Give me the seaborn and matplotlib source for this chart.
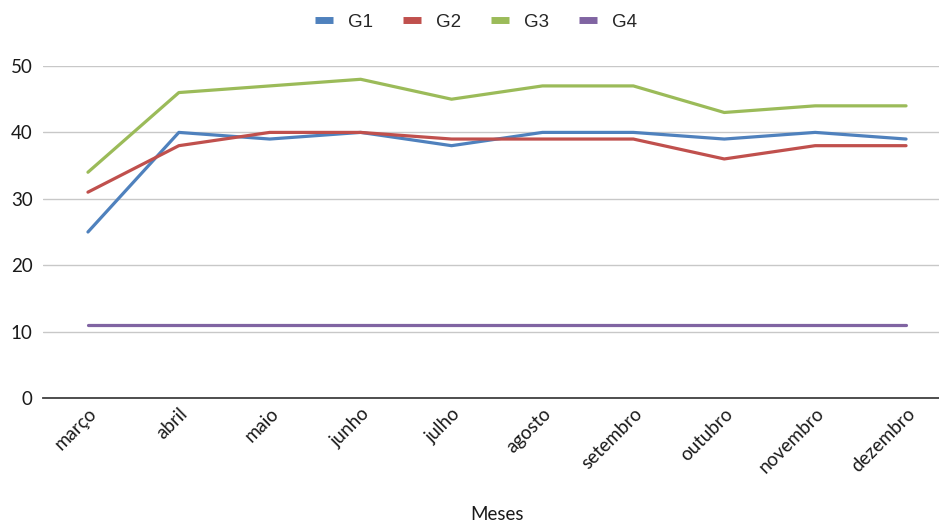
import matplotlib
matplotlib.use("Agg")
import matplotlib.pyplot as plt
import seaborn as sns
import pandas as pd
from matplotlib.lines import Line2D

meses = ["março", "abril", "maio", "junho", "julho", "agosto",
         "setembro", "outubro", "novembro", "dezembro"]
g1 = [25, 40, 39, 40, 38, 40, 40, 39, 40, 39]
g2 = [31, 38, 40, 40, 39, 39, 39, 36, 38, 38]
g3 = [34, 46, 47, 48, 45, 47, 47, 43, 44, 44]
g4 = [11, 11, 11, 11, 11, 11, 11, 11, 11, 11]
series = ["G1", "G2", "G3", "G4"]
colors = ["#4F81BD", "#C0504D", "#9BBB59", "#8064A2"]

rows = []
for name, vals in zip(series, [g1, g2, g3, g4]):
    for m, v in zip(meses, vals):
        rows.append({"Meses": m, "valor": v, "serie": name})
df = pd.DataFrame(rows)

sns.set_theme(style="white")
plt.rcParams["font.family"] = ["Lato", "DejaVu Sans"]

fig = plt.figure(figsize=(9.39, 5.23), dpi=100)
W, H = 939, 523
ax = fig.add_axes([42.5 / W, (H - 398) / H, 909 / W, 332 / H])

sns.lineplot(data=df, x="Meses", y="valor", hue="serie", palette=colors,
             hue_order=series, sort=False, linewidth=2.3, ax=ax, legend=False)

ax.set_xlim(-0.5, 9.5)
ax.set_ylim(0, 50)
ax.set_yticks([0, 10, 20, 30, 40, 50])
ax.yaxis.grid(True, color="#C8C8C8", linewidth=1.0)
ax.set_axisbelow(True)
for s in ["top", "right", "left"]:
    ax.spines[s].set_visible(False)
ax.spines["bottom"].set_color("#404040")
ax.spines["bottom"].set_linewidth(1.3)
ax.tick_params(axis="both", length=0, labelsize=13.5, colors="#1a1a1a")
ax.tick_params(axis="y", pad=7)
ax.set_xticks(range(len(meses)))
ax.set_xticklabels(meses, rotation=45, ha="right", rotation_mode="anchor")
ax.tick_params(axis="x", pad=5)
ax.set_ylabel("")
ax.set_xlabel("")
fig.text(497 / W, 1 - 515 / H, "Meses", ha="center", va="center",
         fontsize=13.5, color="#1a1a1a")

handles = [Line2D([0], [0], color=c, linewidth=5, solid_capstyle="butt") for c in colors]
fig.legend(handles, series, loc="center", bbox_to_anchor=(476 / W, 1 - 22 / H),
           ncol=4, frameon=False, handlelength=0.95, columnspacing=1.6,
           handletextpad=0.8, prop={"family": "Liberation Sans", "size": 13.5})

fig.savefig("out.png", dpi=100)
